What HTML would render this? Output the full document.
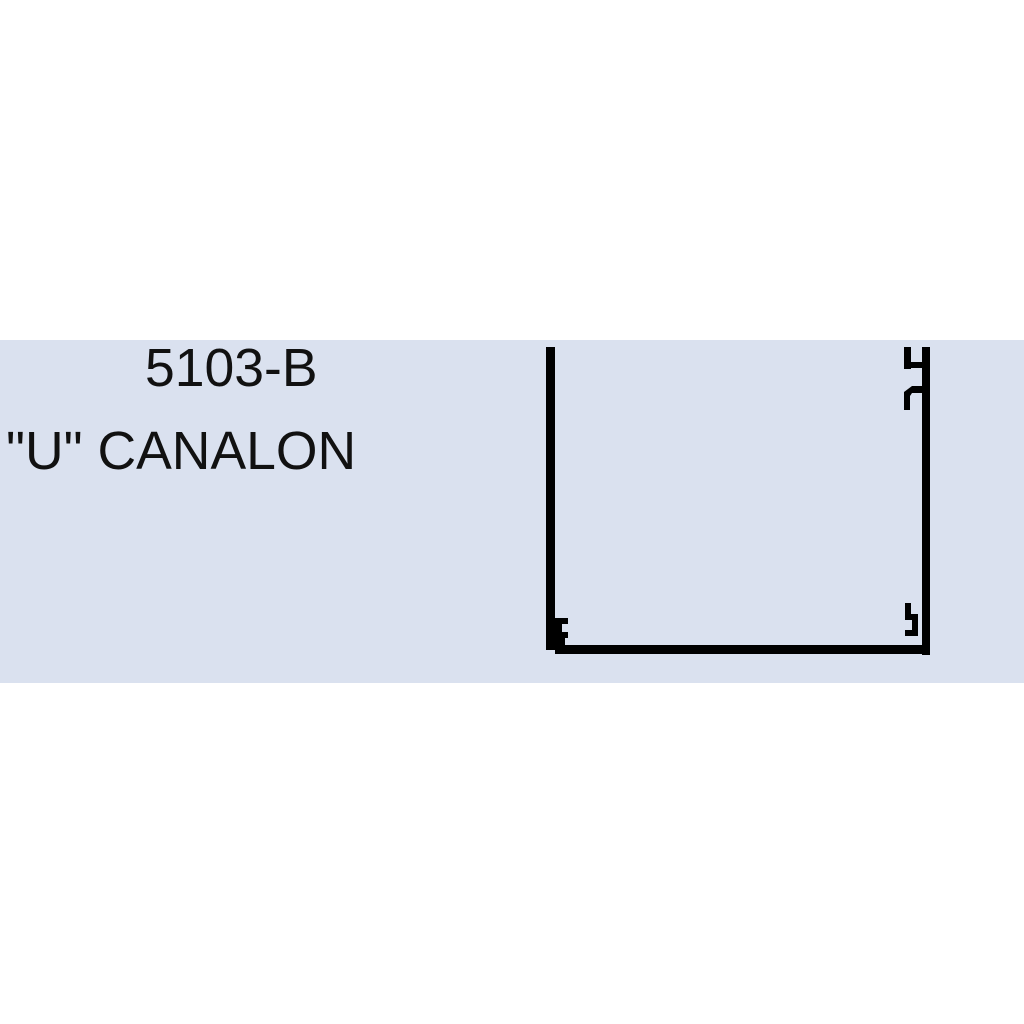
<!DOCTYPE html>
<html><head><style>
body{margin:0;width:1024px;height:1024px;background:#fff;position:relative;overflow:hidden;font-family:"Liberation Sans",sans-serif}
.band{position:absolute;left:0;top:340px;width:1024px;height:343px;background:#dae1ef}
.t{position:absolute;color:#111;font-size:53.5px;line-height:1;white-space:nowrap}
</style></head><body>
<div class="band"></div>
<div class="t" style="left:145px;top:342px">5103-B</div>
<div class="t" style="left:6px;top:425px">"U" CANALON</div>
<svg width="1024" height="1024" style="position:absolute;left:0;top:0">
<g fill="#000">
<rect x="546" y="347" width="9" height="303"/>
<rect x="563" y="645" width="367" height="9"/>
<rect x="555" y="636" width="10" height="18"/>
<rect x="922" y="347" width="8" height="308"/>
<rect x="904" y="347" width="7" height="22"/>
<rect x="904" y="362" width="20" height="6"/>
<path d="M904 392 L912 386 L922 386 L922 393 L912 393 L910 396 L910 410 L904 410 Z"/>
<path d="M555 618 L568 618 L568 624 L562 624 L562 632 L568 632 L568 638 L555 638 Z"/>
<rect x="905" y="603" width="6" height="14"/>
<path d="M905 614 L918 614 L918 636 L905 636 L905 630 L912 630 L912 620 L905 620 Z"/>
</g>
</svg>
</body></html>
